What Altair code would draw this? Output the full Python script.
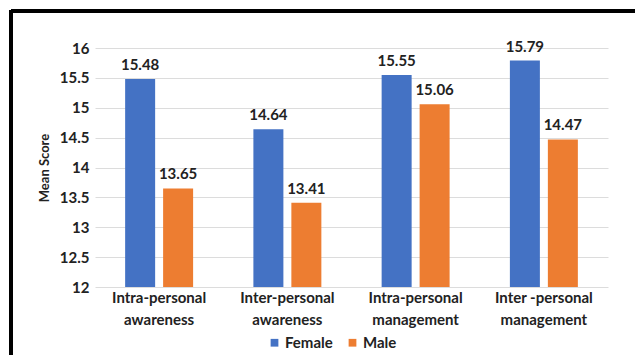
import altair as alt
import pandas as pd

# Mean scores by dimension and gender
categories = [
    "Intra-personal\nawareness",
    "Inter-personal\nawareness",
    "Intra-personal\nmanagement",
    "Inter -personal\nmanagement",
]
female = [15.48, 14.64, 15.55, 15.79]
male = [13.65, 13.41, 15.06, 14.47]
genders = ["Female", "Male"]
colors = ["#4472C4", "#ED7D31"]
y_ticks = [12, 12.5, 13, 13.5, 14, 14.5, 15, 15.5, 16]

rows = []
for c, f, m in zip(categories, female, male):
    rows.append({"dimension": c, "gender": "Female", "score": f})
    rows.append({"dimension": c, "gender": "Male", "score": m})
df = pd.DataFrame(rows)

FONT = "Lato"
W, H = 513, 239

x_enc = alt.X(
    "dimension:N",
    sort=categories,
    scale=alt.Scale(paddingInner=0.47, paddingOuter=0.235),
    axis=alt.Axis(
        title=None,
        labelAngle=0,
        labelExpr="split(datum.label, '\\n')",
        labelFont=FONT,
        labelFontWeight="bold",
        labelFontSize=15,
        labelColor="#222222",
        labelLineHeight=22,
        labelPadding=3,
        ticks=False,
        domain=False,
        grid=False,
    ),
)
xoff = alt.XOffset(
    "gender:N", sort=genders, scale=alt.Scale(paddingInner=0.21, paddingOuter=0)
)
y_enc = alt.Y(
    "score:Q",
    scale=alt.Scale(domain=[12, 16], zero=False, nice=False),
    axis=alt.Axis(
        title="Mean Score",
        values=y_ticks,
        format="~g",
        labelOverlap=False,
        labelFont=FONT,
        labelFontWeight="bold",
        labelFontSize=15,
        labelColor="#222222",
        labelPadding=6,
        titleFont=FONT,
        titleFontWeight="bold",
        titleFontSize=13,
        titleColor="#222222",
        titlePadding=8,
        ticks=False,
        domain=False,
        grid=True,
        gridColor="#dcdcdc",
        gridWidth=1,
    ),
)

bars = (
    alt.Chart(df)
    .mark_bar()
    .encode(
        x=x_enc,
        xOffset=xoff,
        y=y_enc,
        y2=alt.datum(12),
        color=alt.Color(
            "gender:N",
            sort=genders,
            scale=alt.Scale(domain=genders, range=colors),
            legend=alt.Legend(
                title=None,
                orient="none",
                direction="horizontal",
                legendX=172,
                legendY=287,
                symbolType="square",
                symbolSize=60,
                symbolStrokeWidth=0,
                labelFont=FONT,
                labelFontWeight="bold",
                labelFontSize=15,
                labelColor="#222222",
                columnPadding=12,
                labelOffset=3,
            ),
        ),
    )
)

labels = (
    alt.Chart(df)
    .mark_text(
        baseline="bottom",
        dy=-6,
        font=FONT,
        fontWeight="bold",
        fontSize=15,
        color="#222222",
    )
    .encode(
        x=x_enc,
        xOffset=xoff,
        y=y_enc,
        text=alt.Text("score:Q", format=".2f"),
    )
)

# Outer frame drawn around the figure
frame_top = alt.Chart(df).mark_rule(color="black", strokeWidth=3).encode(
    x=alt.value(-84), x2=alt.value(600), y=alt.value(-37)
)
frame_left = alt.Chart(df).mark_rule(color="black", strokeWidth=3).encode(
    x=alt.value(-84), y=alt.value(-38), y2=alt.value(400)
)

chart = (
    alt.layer(bars, labels, frame_top, frame_left)
    .properties(
        width=W,
        height=H,
        autosize=alt.AutoSizeParams(type="none"),
        padding={"left": 95, "top": 48, "right": 27, "bottom": 68},
        background="white",
    )
    .configure_view(stroke=None)
)

chart.save("out.html", embed_options={"renderer": "svg", "actions": False})
